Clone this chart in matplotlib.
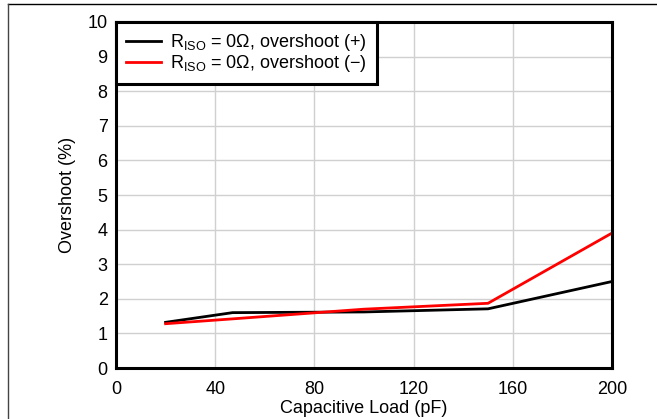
import matplotlib
matplotlib.use("Agg")
import matplotlib.pyplot as plt
from matplotlib.lines import Line2D

plt.rcParams['font.family'] = ['Liberation Sans', 'DejaVu Sans']
plt.rcParams['mathtext.fontset'] = 'custom'
plt.rcParams['mathtext.rm'] = 'Liberation Sans'

# data
cap_load = [20, 47, 100, 150, 200]
overshoot_pos = [1.32, 1.60, 1.62, 1.71, 2.50]
overshoot_neg = [1.28, 1.42, 1.70, 1.87, 3.90]
x_ticks = [0, 40, 80, 120, 160, 200]
y_ticks = list(range(0, 11))

fs = 13

fig = plt.figure(figsize=(6.57, 4.19), dpi=100)
ax = fig.add_axes([116 / 657, 1 - 368 / 419, 496 / 657, 346 / 419])

ax.plot(cap_load, overshoot_pos, color='black', lw=2,
        label=r'R$_{\mathregular{ISO}}$ = 0Ω, overshoot (+)')
ax.plot(cap_load, overshoot_neg, color='#ff0000', lw=2,
        label=r'R$_{\mathregular{ISO}}$ = 0Ω, overshoot (−)')

ax.set_xlim(0, 200)
ax.set_ylim(0, 10)
ax.set_xticks(x_ticks)
ax.set_yticks(y_ticks)
ax.grid(True, color='#d0d0d0', lw=1)
ax.set_axisbelow(True)
ax.tick_params(length=0, labelsize=fs)
ax.tick_params(axis='x', pad=9)
ax.tick_params(axis='y', pad=6)
for s in ax.spines.values():
    s.set_linewidth(2.2)

ax.set_xlabel('Capacitive Load (pF)', fontsize=fs, labelpad=2)
ax.set_ylabel('Overshoot (%)', fontsize=fs, labelpad=8)

leg = ax.legend(loc='upper left', borderaxespad=0, fontsize=fs,
                fancybox=False, framealpha=1, edgecolor='black',
                handlelength=1.95, handletextpad=0.5, labelspacing=0.0,
                borderpad=0.55)
leg.get_frame().set_linewidth(2.2)

# frame lines at the figure edge
fig.add_artist(Line2D([8 / 657, 1], [1 - 4 / 419, 1 - 4 / 419],
                      transform=fig.transFigure, color='black', lw=1))
fig.add_artist(Line2D([8 / 657, 8 / 657], [0, 1 - 4 / 419],
                      transform=fig.transFigure, color='#444444', lw=1))

fig.savefig('out.png', dpi=100)
